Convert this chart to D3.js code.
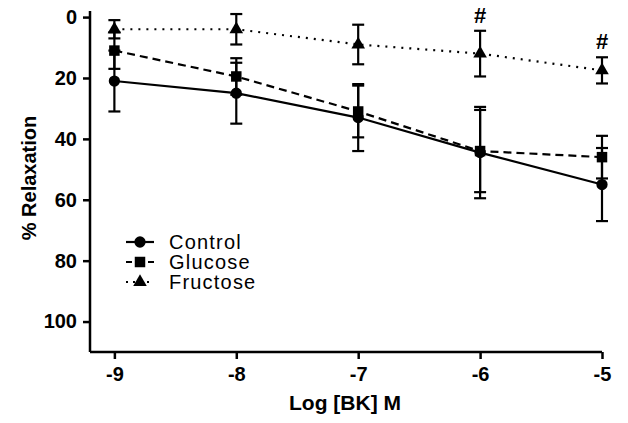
<!DOCTYPE html>
<html>
<head>
<meta charset="utf-8">
<script src="https://cdn.jsdelivr.net/npm/d3@7"></script>
<style>
  body { margin: 0; background: #fff; }
  text { font-family: "Liberation Sans", Arial, sans-serif; }
</style>
</head>
<body>
<svg id="chart" width="628" height="423"></svg>
<script>
// Data
var doses = [-9, -8, -7, -6, -5];
var controlMean = [21, 25, 33, 44.5, 55];
var controlErr  = [10, 10, 11, 15, 12];
var glucoseMean = [11, 19.5, 31, 44, 46];
var glucoseErr  = [6, 6, 8.5, 13.5, 7];
var fructoseMean = [4, 4, 9, 12, 17.5];
var fructoseErr  = [3, 5, 6.5, 7.5, 4.3];
var hashDoses = [-6, -5];
var yTicks = [0, 20, 40, 60, 80, 100];

var series = [
  { name: "Control",  mean: controlMean,  err: controlErr,  dash: null,   legendDash: null,  symbol: d3.symbolCircle,   size: 100 },
  { name: "Glucose",  mean: glucoseMean,  err: glucoseErr,  dash: "8,5",  legendDash: "6,5", symbol: d3.symbolSquare,   size: 110 },
  { name: "Fructose", mean: fructoseMean, err: fructoseErr, dash: "2,6",  legendDash: "2,5", symbol: d3.symbolTriangle, size: 80 }
];

var svg = d3.select("#chart");

var x = d3.scaleLinear().domain([-9.2, -5]).range([90, 602]);
var y = d3.scaleLinear().domain([-2, 110]).range([11, 352]);

// Axes
var xAxis = svg.append("g")
  .attr("transform", "translate(0," + y(110) + ")")
  .call(d3.axisBottom(x).tickValues(doses).tickSize(7).tickPadding(8)
    .tickFormat(function(d) { return String(d); }));

var yAxis = svg.append("g")
  .attr("transform", "translate(" + x(-9.2) + ",0)")
  .call(d3.axisLeft(y).tickValues(yTicks).tickSize(7).tickPadding(6));

[xAxis, yAxis].forEach(function(a) {
  a.select(".domain").attr("stroke", "#000").attr("stroke-width", 2.5);
  a.selectAll(".tick line").attr("stroke", "#000").attr("stroke-width", 2.5);
  a.selectAll(".tick text")
    .style("font-size", "20px")
    .style("font-weight", "bold")
    .style("font-family", "'Liberation Sans', Arial, sans-serif")
    .attr("fill", "#000");
});
// flat axis lines (no outer ticks)
xAxis.select(".domain").attr("d", "M" + x(-9.2) + ",0H" + x(-5));
yAxis.select(".domain").attr("d", "M0," + y(-2) + "V" + y(110));

// Axis titles
svg.append("text")
  .attr("x", 345).attr("y", 410)
  .attr("text-anchor", "middle")
  .style("font-size", "21px").style("font-weight", "bold")
  .text("Log [BK] M");

svg.append("text")
  .attr("transform", "translate(36," + 178 + ") rotate(-90)")
  .attr("text-anchor", "middle")
  .style("font-size", "20px").style("font-weight", "bold")
  .text("% Relaxation");

var line = d3.line()
  .x(function(d) { return x(d[0]); })
  .y(function(d) { return y(d[1]); });

series.forEach(function(s) {
  var pts = doses.map(function(d, i) { return [d, s.mean[i], s.err[i]]; });
  var g = svg.append("g").attr("class", "series");

  g.append("path")
    .datum(pts)
    .attr("d", line)
    .attr("fill", "none")
    .attr("stroke", "#000")
    .attr("stroke-width", 2.2)
    .attr("stroke-dasharray", s.dash);

  // Error bars
  var eb = g.selectAll("g.err").data(pts).enter().append("g").attr("class", "err");
  eb.append("line")
    .attr("x1", function(d) { return x(d[0]); })
    .attr("x2", function(d) { return x(d[0]); })
    .attr("y1", function(d) { return y(d[1] - d[2]); })
    .attr("y2", function(d) { return y(d[1] + d[2]); })
    .attr("stroke", "#000").attr("stroke-width", 2.2);
  [-1, 1].forEach(function(sg) {
    eb.append("line")
      .attr("x1", function(d) { return x(d[0]) - 6; })
      .attr("x2", function(d) { return x(d[0]) + 6; })
      .attr("y1", function(d) { return y(d[1] + sg * d[2]); })
      .attr("y2", function(d) { return y(d[1] + sg * d[2]); })
      .attr("stroke", "#000").attr("stroke-width", 2.2);
  });

  g.selectAll("path.mark").data(pts).enter().append("path")
    .attr("class", "mark")
    .attr("transform", function(d) { return "translate(" + x(d[0]) + "," + y(d[1]) + ")"; })
    .attr("d", d3.symbol().type(s.symbol).size(s.size))
    .attr("fill", "#000");
});

// Significance marks
svg.selectAll("text.hash").data(hashDoses).enter().append("text")
  .attr("class", "hash")
  .attr("x", function(d) { return x(d); })
  .attr("y", function(d) { var i = doses.indexOf(d); return y(fructoseMean[i] - fructoseErr[i]) - 8; })
  .attr("text-anchor", "middle")
  .style("font-size", "22px").style("font-weight", "bold")
  .text("#");

// Legend
var legend = svg.append("g").attr("transform", "translate(126,242)");
series.forEach(function(s, i) {
  var row = legend.append("g").attr("transform", "translate(0," + (i * 20) + ")");
  row.append("line")
    .attr("x1", 0).attr("x2", 28).attr("y1", 0).attr("y2", 0)
    .attr("stroke", "#000").attr("stroke-width", 2.2)
    .attr("stroke-dasharray", s.legendDash);
  row.append("path")
    .attr("transform", "translate(14,0)")
    .attr("d", d3.symbol().type(s.symbol).size(s.size))
    .attr("fill", "#000");
  row.append("text")
    .attr("x", 43).attr("y", 7)
    .style("font-size", "20px")
    .style("letter-spacing", "1.2px")
    .text(s.name);
});
</script>
</body>
</html>
